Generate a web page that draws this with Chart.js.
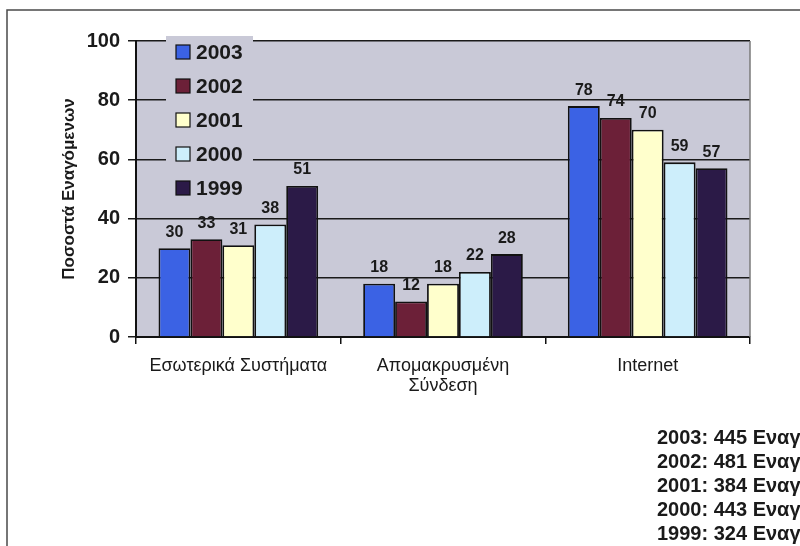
<!DOCTYPE html>
<html>
<head>
<meta charset="utf-8">
<script src="https://cdn.jsdelivr.net/npm/chart.js@4.4.1/dist/chart.umd.min.js"></script>
<style>
  html, body { margin: 0; padding: 0; background: #ffffff; }
  #wrap { width: 800px; height: 546px; position: relative; }
</style>
</head>
<body>
<div id="wrap"><canvas id="c" width="800" height="546"></canvas></div>
<script>
// Categories of systems attacked
const categories = ['Εσωτερικά Συστήματα', ['Απομακρυσμένη', 'Σύνδεση'], 'Internet'];
// Survey years (legend order)
const years = ['2003', '2002', '2001', '2000', '1999'];
// Percentage of respondents per year, per category
const values2003 = [30, 18, 78];
const values2002 = [33, 12, 74];
const values2001 = [31, 18, 70];
const values2000 = [38, 22, 59];
const values1999 = [51, 28, 57];
const yTicks = [0, 20, 40, 60, 80, 100];
// Number of respondents per year
const respondentCounts = [445, 481, 384, 443, 324];

const seriesValues = [values2003, values2002, values2001, values2000, values1999];
const seriesColors = ['#3b62e4', '#6c2038', '#ffffcc', '#cdeefb', '#2b1a47'];
const plotFill = '#c9c9d7';
const FONT = '"Liberation Sans", Arial, sans-serif';

const datasets = years.map((y, i) => ({
  label: y,
  data: seriesValues[i],
  backgroundColor: seriesColors[i],
  borderColor: '#111111',
  borderWidth: 1.8,
  categoryPercentage: 0.78,
  barPercentage: 1.0
}));

const decor = {
  id: 'decor',
  beforeDraw(chart) {
    const { ctx, chartArea: a } = chart;
    ctx.save();
    ctx.fillStyle = plotFill;
    ctx.fillRect(a.left, a.top, a.right - a.left, a.bottom - a.top);
    // outer frame
    ctx.strokeStyle = '#4a4a4a';
    ctx.lineWidth = 1.5;
    ctx.beginPath();
    ctx.moveTo(7, 546);
    ctx.lineTo(7, 10);
    ctx.lineTo(800, 10);
    ctx.stroke();
    ctx.restore();
  },
  afterDatasetsDraw(chart) {
    const { ctx, chartArea: a } = chart;
    ctx.save();
    // right edge of plot
    ctx.strokeStyle = '#7a7a7a';
    ctx.lineWidth = 1.5;
    ctx.beginPath();
    ctx.moveTo(a.right, a.top);
    ctx.lineTo(a.right, a.bottom);
    ctx.stroke();

    // value labels above bars
    ctx.fillStyle = '#1a1a1a';
    ctx.font = 'bold 16px ' + FONT;
    ctx.textAlign = 'center';
    ctx.textBaseline = 'bottom';
    chart.data.datasets.forEach((ds, di) => {
      chart.getDatasetMeta(di).data.forEach((bar, i) => {
        ctx.fillText(String(ds.data[i]), bar.x, bar.y - 8);
      });
    });

    // legend inside the plot
    ctx.fillStyle = plotFill;
    ctx.fillRect(166, 36, 87, 164);
    ctx.font = 'bold 21px ' + FONT;
    ctx.textAlign = 'left';
    ctx.textBaseline = 'middle';
    years.forEach((y, i) => {
      const cy = 52 + i * 34;
      ctx.fillStyle = seriesColors[i];
      ctx.fillRect(176, cy - 7, 14, 14);
      ctx.strokeStyle = '#111';
      ctx.lineWidth = 1.2;
      ctx.strokeRect(176, cy - 7, 14, 14);
      ctx.fillStyle = '#1a1a1a';
      ctx.fillText(y, 196, cy + 1);
    });

    // respondents per year
    ctx.font = 'bold 20px ' + FONT;
    ctx.fillStyle = '#1a1a1a';
    years.forEach((y, i) => {
      ctx.fillText(y + ': ' + respondentCounts[i] + ' Εναγόμενοι', 657, 438 + i * 24);
    });
    ctx.restore();
  }
};

new Chart(document.getElementById('c'), {
  type: 'bar',
  data: { labels: categories, datasets },
  options: {
    responsive: false,
    animation: false,
    devicePixelRatio: 1,
    layout: { padding: { left: 0, right: 50, top: 41, bottom: 0 } },
    plugins: { legend: { display: false }, tooltip: { enabled: false } },
    scales: {
      x: {
        afterFit(s) { s.height = 209; },
        grid: { offset: true, drawOnChartArea: false, drawTicks: true, tickLength: 7, color: '#111', lineWidth: 1.5 },
        border: { color: '#111', width: 2 },
        ticks: { color: '#1a1a1a', font: { family: FONT, size: 18, lineHeight: 1.1 }, padding: 12, maxRotation: 0 }
      },
      y: {
        min: 0, max: 100,
        afterFit(s) { s.width = 136; },
        afterBuildTicks(s) { s.ticks = yTicks.map(v => ({ value: v })); },
        grid: { color: '#1a1a1a', lineWidth: 1.5, tickLength: 8 },
        border: { color: '#111', width: 2 },
        ticks: { color: '#1a1a1a', font: { family: FONT, size: 20, weight: 'bold' }, padding: 8 },
        title: {
          display: true,
          text: 'Ποσοστά Εναγόμενων',
          color: '#1a1a1a',
          font: { family: FONT, size: 17, weight: 'bold' },
          padding: { top: 59 }
        }
      }
    }
  },
  plugins: [decor]
});
</script>
</body>
</html>
